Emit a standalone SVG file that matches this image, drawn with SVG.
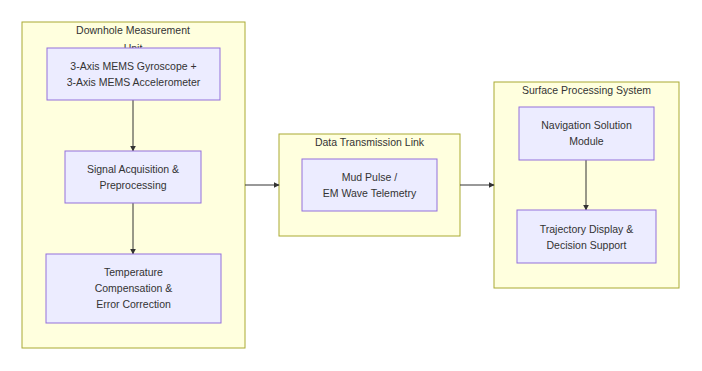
<svg xmlns="http://www.w3.org/2000/svg" width="702" height="371" viewBox="0 0 702 371">
<defs>
<style>
.cluster{fill:#ffffde;stroke:#aaaa33;stroke-width:1}
.node{fill:#ececff;stroke:#9370db;stroke-width:1}
text{font-family:"Liberation Sans",Arial,sans-serif;font-size:10.5px;fill:#333;text-anchor:middle}
.edge{stroke:#333;stroke-width:1;fill:none;marker-end:url(#arr)}
</style>
<marker id="arr" viewBox="0 0 10 10" refX="9" refY="5" markerWidth="6" markerHeight="6" orient="auto" markerUnits="userSpaceOnUse">
<path d="M0,0 L10,5 L0,10 z" fill="#333"/>
</marker>
</defs>
<rect width="702" height="371" fill="#ffffff"/>
<g id="cluster-downhole">
<rect class="cluster" x="22" y="22" width="223" height="326"/>
<text x="133" y="34">Downhole Measurement</text>
<text x="133" y="52">Unit</text>
</g>
<g id="cluster-transmission">
<rect class="cluster" x="279" y="134" width="181" height="102"/>
<text x="369.5" y="146">Data Transmission Link</text>
</g>
<g id="cluster-surface">
<rect class="cluster" x="494" y="82" width="185" height="206"/>
<text x="586.5" y="94">Surface Processing System</text>
</g>
<g id="connectors">
<line class="edge" x1="133" y1="100" x2="133" y2="151"/>
<line class="edge" x1="133" y1="203" x2="133" y2="254"/>
<line class="edge" x1="245" y1="185" x2="279" y2="185"/>
<line class="edge" x1="460" y1="185" x2="494" y2="185"/>
<line class="edge" x1="586" y1="160" x2="586" y2="210"/>
</g>
<g id="node-sensors">
<rect class="node" x="47" y="48" width="173" height="52"/>
<text x="133.5" y="70">3-Axis MEMS Gyroscope +</text>
<text x="133.5" y="86">3-Axis MEMS Accelerometer</text>
</g>
<g id="node-acquisition">
<rect class="node" x="65" y="151" width="136" height="52"/>
<text x="133" y="173">Signal Acquisition &amp;</text>
<text x="133" y="189">Preprocessing</text>
</g>
<g id="node-compensation">
<rect class="node" x="46" y="254" width="175" height="69"/>
<text x="133.5" y="276">Temperature</text>
<text x="133.5" y="292">Compensation &amp;</text>
<text x="133.5" y="308">Error Correction</text>
</g>
<g id="node-telemetry">
<rect class="node" x="302" y="159" width="135" height="52"/>
<text x="369.5" y="181">Mud Pulse /</text>
<text x="369.5" y="197">EM Wave Telemetry</text>
</g>
<g id="node-navigation">
<rect class="node" x="519" y="107" width="135" height="53"/>
<text x="586.5" y="129">Navigation Solution</text>
<text x="586.5" y="145">Module</text>
</g>
<g id="node-display">
<rect class="node" x="517" y="210" width="139" height="53"/>
<text x="586.5" y="233">Trajectory Display &amp;</text>
<text x="586.5" y="249">Decision Support</text>
</g>
</svg>
